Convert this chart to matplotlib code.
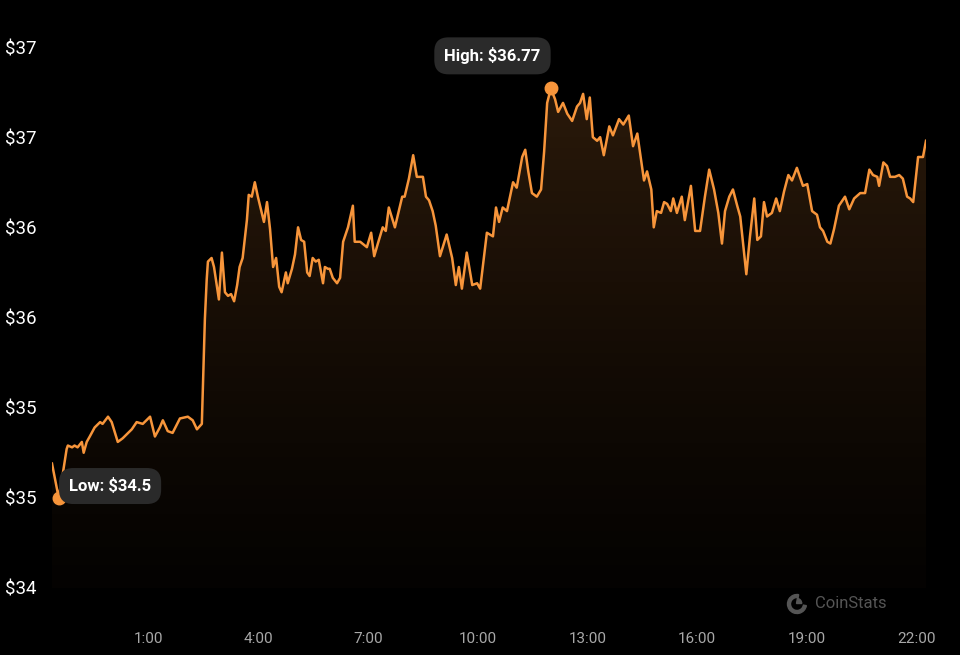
import numpy as np
import matplotlib.pyplot as plt
from matplotlib.patches import Wedge

# minutes from midnight (negative = previous evening) and price in USD
minutes = [
    -99, -88, -81, -75, -73, -66, -62, -57, -50, -47, -42, -37, -29, -20, -16, -7, -1,
    9, 17, 32, 40, 50, 62, 70, 78, 83, 91, 99, 111, 124, 132, 139, 147,
    152, 155, 157, 163, 167, 172, 175, 180, 182, 185, 190, 195, 200, 205, 209, 214,
    221, 224, 229, 234, 239, 249, 254, 259, 264, 269, 274, 278, 285, 288, 295, 300,
    305, 310, 315, 320, 324, 329, 334, 339, 346, 349, 354, 357, 362, 369, 374, 379,
    387, 395, 398, 407, 418, 425, 430, 436, 444, 449, 454, 464, 476, 480, 487, 494,
    500, 510, 515, 520, 526, 531, 538, 549, 558, 564, 569, 574, 582, 591, 599, 604,
    615, 625, 630, 635, 641, 648, 653, 658, 664, 673, 678, 683, 689, 697, 704, 709,
    714, 720, 727, 732, 740, 747, 755, 763, 768, 773, 779, 784, 789, 796, 801, 807,
    816, 822, 832, 839, 848, 855, 862, 868, 873, 878, 885, 889, 894, 901, 906, 911,
    917, 921, 927, 935, 940, 950, 957, 965, 973, 980, 988, 995, 1001, 1006, 1013, 1019,
    1026, 1031, 1041, 1047, 1054, 1059, 1065, 1070, 1075, 1083, 1090, 1096, 1103, 1110,
    1116, 1124, 1131, 1134, 1141, 1149, 1157, 1162, 1167, 1174, 1179, 1185, 1193, 1203,
    1210, 1218, 1228, 1236, 1243, 1249, 1256, 1259, 1266, 1272, 1277, 1285, 1292, 1298,
    1305, 1310, 1315, 1323, 1331, 1336,
]
prices = [
    34.69, 34.50, 34.64, 34.77, 34.79, 34.78, 34.79, 34.78, 34.81, 34.75, 34.81, 34.84, 34.89, 34.92, 34.91, 34.95, 34.92,
    34.81, 34.83, 34.88, 34.92, 34.91, 34.95, 34.84, 34.89, 34.93, 34.87, 34.86, 34.94, 34.95, 34.93, 34.88, 34.91,
    35.49, 35.71, 35.81, 35.83, 35.78, 35.67, 35.60, 35.86, 35.77, 35.64, 35.62, 35.63, 35.59, 35.68, 35.78, 35.83,
    36.04, 36.18, 36.17, 36.25, 36.17, 36.03, 36.14, 35.99, 35.78, 35.83, 35.67, 35.64, 35.75, 35.69, 35.77, 35.85,
    36.00, 35.93, 35.92, 35.75, 35.73, 35.83, 35.81, 35.82, 35.69, 35.78, 35.77, 35.77, 35.72, 35.69, 35.72, 35.92,
    36.00, 36.12, 35.92, 35.92, 35.89, 35.97, 35.84, 35.91, 36.00, 35.98, 36.11, 36.00, 36.17, 36.17, 36.27, 36.40,
    36.28, 36.28, 36.17, 36.15, 36.09, 36.01, 35.84, 35.96, 35.83, 35.68, 35.78, 35.66, 35.86, 35.68, 35.69, 35.66,
    35.97, 35.95, 36.11, 36.03, 36.11, 36.09, 36.17, 36.25, 36.22, 36.39, 36.43, 36.31, 36.19, 36.17, 36.21, 36.42,
    36.69, 36.77, 36.71, 36.64, 36.69, 36.63, 36.59, 36.67, 36.69, 36.74, 36.60, 36.72, 36.50, 36.48, 36.50, 36.40,
    36.56, 36.51, 36.60, 36.57, 36.62, 36.45, 36.52, 36.38, 36.26, 36.31, 36.21, 36.00, 36.09, 36.08, 36.14, 36.13,
    36.09, 36.16, 36.08, 36.17, 36.04, 36.23, 35.98, 35.98, 36.17, 36.32, 36.21, 36.08, 35.91, 36.09, 36.17, 36.21,
    36.12, 36.06, 35.74, 35.95, 36.16, 35.93, 35.95, 36.14, 36.06, 36.08, 36.16, 36.09, 36.20, 36.29,
    36.26, 36.33, 36.26, 36.23, 36.24, 36.09, 36.07, 36.00, 35.98, 35.92, 35.91, 35.99, 36.12, 36.17,
    36.10, 36.16, 36.19, 36.19, 36.32, 36.29, 36.28, 36.23, 36.36, 36.34, 36.28, 36.28, 36.29, 36.27,
    36.17, 36.16, 36.14, 36.39, 36.39, 36.48,
]
y_ticks = [34.0, 34.5, 35.0, 35.5, 36.0, 36.5, 37.0]
x_ticks = [1, 4, 7, 10, 13, 16, 19, 22]
x_labels = ["1:00", "4:00", "7:00", "10:00", "13:00", "16:00", "19:00", "22:00"]

LINE = "#f7953b"
BG = "#000000"

hours = np.array(minutes) / 60.0
prices = np.array(prices)

plt.rcParams['font.family'] = ['Roboto', 'DejaVu Sans']

fig = plt.figure(figsize=(9.6, 6.55), dpi=100, facecolor=BG)
ax = fig.add_axes([52 / 960, 67 / 655, 874 / 960, 541 / 655])
ax.set_facecolor(BG)
ax.set_xlim(hours[0], hours[-1])
ax.set_ylim(34.0, 37.0)
for s in ax.spines.values():
    s.set_visible(False)

# gradient fill under the line
grad = np.linspace(0.0, 1.0, 256).reshape(-1, 1)
rgba = np.zeros((256, 1, 4))
rgba[..., 0] = 0.97
rgba[..., 1] = 0.58
rgba[..., 2] = 0.23
rgba[..., 3] = 0.02 + 0.17 * grad ** 1.2
img = ax.imshow(rgba, aspect="auto", origin="lower",
                extent=[hours[0], hours[-1], 34.0, 37.0], zorder=1)
poly = ax.fill_between(hours, prices, 34.0, color="none", lw=0)
clip = poly.get_paths()[0]
img.set_clip_path(clip, transform=ax.transData)

ax.plot(hours, prices, color=LINE, lw=1.8, zorder=3, solid_joinstyle="round")

# high / low markers
i_hi = int(np.argmax(prices))
i_lo = int(np.argmin(prices))
ax.plot(hours[i_hi], prices[i_hi], "o", color=LINE, ms=9, zorder=4)
ax.plot(hours[i_lo], prices[i_lo], "o", color=LINE, ms=9, zorder=4)

box = dict(boxstyle="round,pad=0.6,rounding_size=0.85", fc="#2a2a2a", ec="none")
ax.annotate(f"High: ${prices[i_hi]:.2f}", (hours[i_hi], prices[i_hi]),
            xytext=(-42, 23.5), textcoords="offset points", ha="center", va="center",
            color="white", fontsize=12, fontweight="bold", bbox=box, zorder=5)
ax.annotate(f"Low: ${prices[i_lo]:.1f}", (hours[i_lo], prices[i_lo]),
            xytext=(37, 8.5), textcoords="offset points", ha="center", va="center",
            color="white", fontsize=12, fontweight="bold", bbox=box, zorder=5)

# axes ticks (labels rounded half up, as on the source chart)
ax.set_yticks(y_ticks)
ax.set_yticklabels([f"${int(v + 0.5)}" for v in y_ticks])
ax.tick_params(axis="y", length=0, pad=34, labelsize=13.5, labelcolor="white")
for lbl in ax.get_yticklabels():
    lbl.set_horizontalalignment("left")

ax.set_xticks(x_ticks)
ax.set_xticklabels(x_labels)
ax.tick_params(axis="x", length=0, pad=32, labelsize=11, labelcolor="#a8a8a8")

# CoinStats watermark
cx, cy, r = 7.97, 0.51, 0.095
fig.patches.append(Wedge((cx, cy), r, 80, 350, width=0.03, color="#555555",
                         transform=fig.dpi_scale_trans, figure=fig))
fig.patches.append(Wedge((cx - 0.005, cy + 0.005), r * 0.55, 0, 80, color="#555555",
                         transform=fig.dpi_scale_trans, figure=fig))
fig.text(815 / 960, (655 - 604) / 655, "CoinStats", color="#555555", fontsize=12,
         va="center", ha="left")

fig.savefig("out.png", dpi=100, facecolor=BG)
